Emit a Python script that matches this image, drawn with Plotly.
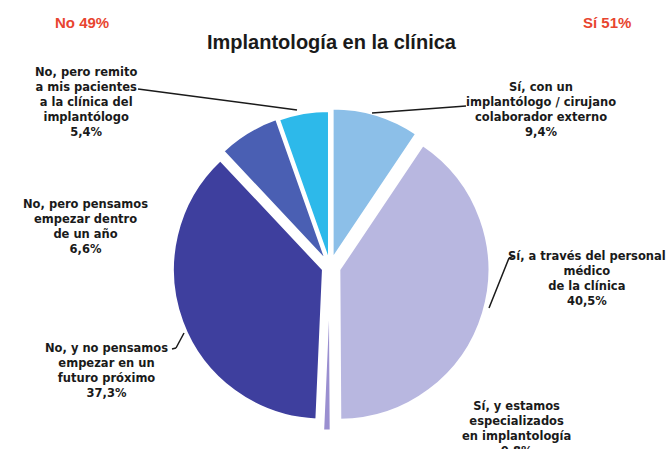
import plotly.graph_objects as go

W, H = 668, 449

# Data
categories = [
    "Sí, con un implantólogo / cirujano colaborador externo",
    "Sí, a través del personal médico de la clínica",
    "Sí, y estamos especializados en implantología",
    "No, y no pensamos empezar en un futuro próximo",
    "No, pero pensamos empezar dentro de un año",
    "No, pero remito a mis pacientes a la clínica del implantólogo",
]
values = [9.4, 40.5, 0.8, 37.3, 6.6, 5.4]
colors = ["#8cbfe8", "#b8b7e0", "#9a8fd0", "#3e3f9e", "#4a5fb3", "#2db9ea"]
pulls = [0.06, 0.065, 0.09, 0.05, 0.05, 0.04]

label_texts = [
    "Sí, con un<br>implantólogo / cirujano<br>colaborador externo<br>9,4%",
    "Sí, a través del personal<br>médico<br>de la clínica<br>40,5%",
    "Sí, y estamos<br>especializados<br>en implantología<br>0,8%",
    "No, y no pensamos<br>empezar en un<br>futuro próximo<br>37,3%",
    "No, pero pensamos<br>empezar dentro<br>de un año<br>6,6%",
    "No, pero remito<br>a mis pacientes<br>a la clínica del<br>implantólogo<br>5,4%",
]
# label centres (pixels)
label_pos = [(541, 110), (587, 278), (516, 428), (106, 370), (85, 226), (86, 102)]
# leader lines (pixels): polyline points from label side to pie edge
leaders = [
    [(466, 106), (372, 113)],
    [(514, 256), (509, 258), (489, 308)],
    None,
    [(172, 349), (176, 348), (184, 333)],
    None,
    [(138, 89), (297, 110)],
]

title_text = "Implantología en la clínica"
group_texts = ["No 49%", "Sí 51%"]
group_pos = [(82, 22), (607, 22)]


def px(x):
    return x / W


def py(y):
    return 1 - y / H


cx, cy, half = 330, 267, 163.5
FONT = "Liberation Sans, Arial, sans-serif"
LABEL_FONT = "DejaVu Sans, Liberation Sans, Arial, sans-serif"

fig = go.Figure(
    go.Pie(
        labels=categories,
        values=values,
        sort=False,
        direction="clockwise",
        rotation=0,
        pull=pulls,
        marker=dict(colors=colors, line=dict(color="white", width=2)),
        textinfo="none",
        hoverinfo="label+value",
        showlegend=False,
        domain=dict(x=[px(cx - half), px(cx + half)], y=[py(cy + half), py(cy - half)]),
    )
)

annotations = []
for t, (x, y) in zip(label_texts, label_pos):
    annotations.append(dict(
        text="<b>" + t + "</b>", x=px(x), y=py(y), xref="paper", yref="paper",
        xanchor="center", yanchor="middle", showarrow=False, align="center",
        font=dict(family=LABEL_FONT, size=11.5, color="#1a1a1a"),
    ))
annotations.append(dict(
    text="<b>" + title_text + "</b>", x=px(332), y=py(42), xref="paper", yref="paper",
    xanchor="center", yanchor="middle", showarrow=False,
    font=dict(family=FONT, size=20, color="#1a1a1a"),
))
for t, (x, y) in zip(group_texts, group_pos):
    annotations.append(dict(
        text="<b>" + t + "</b>", x=px(x), y=py(y), xref="paper", yref="paper",
        xanchor="center", yanchor="middle", showarrow=False,
        font=dict(family=FONT, size=15, color="#e8452f"),
    ))

shapes = []
for ld in leaders:
    if ld is None:
        continue
    for (x0, y0), (x1, y1) in zip(ld[:-1], ld[1:]):
        shapes.append(dict(type="line", xref="paper", yref="paper",
                           x0=px(x0), y0=py(y0), x1=px(x1), y1=py(y1),
                           line=dict(color="#1a1a1a", width=1.5)))

fig.update_layout(
    width=W, height=H,
    margin=dict(l=0, r=0, t=0, b=0),
    paper_bgcolor="white", plot_bgcolor="white",
    annotations=annotations, shapes=shapes,
)

fig.write_html("out.html", config={"displayModeBar": False},
               post_script="document.body.style.margin='0';")
